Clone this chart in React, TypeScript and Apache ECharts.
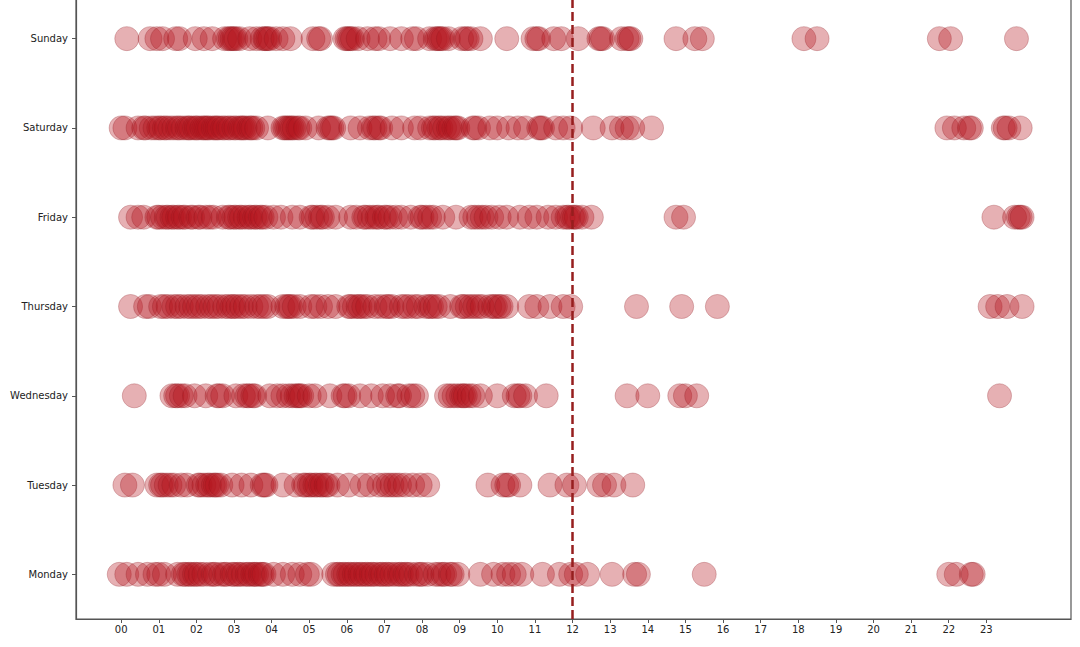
import React, { useEffect, useRef } from "react";
import * as echarts from "echarts";

const days = ["Monday", "Tuesday", "Wednesday", "Thursday", "Friday", "Saturday", "Sunday"];
const hourTicks = Array.from({ length: 24 }, (_, i) => i);

const monday = [-0.05, 0.15, 0.45, 0.7, 0.9, 1.0, 1.15, 1.5, 1.65, 1.7, 1.8, 1.85, 1.95, 2.0, 2.1, 2.2, 2.35, 2.45, 2.5, 2.65, 2.75, 2.8, 2.95, 3.0, 3.1, 3.15, 3.25, 3.35, 3.4, 3.5, 3.55, 3.6, 3.7, 3.75, 3.8, 4.05, 4.3, 4.55, 4.75, 4.95, 5.05, 5.65, 5.75, 5.8, 5.9, 5.95, 6.05, 6.1, 6.2, 6.25, 6.35, 6.4, 6.5, 6.55, 6.65, 6.7, 6.8, 6.9, 6.95, 7.05, 7.1, 7.2, 7.3, 7.4, 7.45, 7.55, 7.6, 7.7, 7.85, 7.95, 8.0, 8.15, 8.35, 8.45, 8.55, 8.6, 8.75, 8.8, 8.95, 9.55, 9.9, 10.15, 10.3, 10.45, 10.65, 11.2, 11.65, 11.95, 12.1, 12.4, 13.05, 13.65, 13.75, 15.5, 22.0, 22.2, 22.6, 22.65];
const tuesday = [0.1, 0.3, 0.95, 1.05, 1.1, 1.2, 1.3, 1.4, 1.6, 1.75, 2.05, 2.1, 2.2, 2.3, 2.35, 2.45, 2.5, 2.55, 2.65, 2.95, 3.2, 3.45, 3.75, 3.8, 3.85, 4.3, 4.65, 4.85, 4.9, 5.0, 5.05, 5.15, 5.2, 5.3, 5.35, 5.45, 5.5, 5.75, 6.05, 6.4, 6.6, 6.85, 7.0, 7.1, 7.2, 7.3, 7.4, 7.55, 7.75, 7.95, 8.15, 9.75, 10.15, 10.25, 10.3, 10.6, 11.4, 11.85, 12.05, 12.7, 12.85, 13.1, 13.6];
const wednesday = [0.35, 1.35, 1.45, 1.5, 1.6, 1.7, 1.95, 2.25, 2.55, 2.6, 2.7, 3.05, 3.25, 3.35, 3.4, 3.5, 3.55, 3.95, 4.15, 4.3, 4.45, 4.55, 4.65, 4.7, 4.75, 4.8, 5.0, 5.15, 5.55, 5.9, 5.95, 6.05, 6.35, 6.65, 6.95, 7.15, 7.35, 7.4, 7.65, 7.75, 7.85, 8.65, 8.75, 8.85, 8.95, 9.05, 9.1, 9.15, 9.25, 9.35, 9.55, 10.0, 10.45, 10.55, 10.6, 10.75, 11.3, 13.45, 14.0, 14.85, 15.0, 15.3, 23.35];
const thursday = [0.25, 0.65, 0.75, 1.05, 1.15, 1.25, 1.4, 1.5, 1.6, 1.75, 1.85, 1.95, 2.05, 2.15, 2.3, 2.4, 2.5, 2.6, 2.75, 2.85, 2.95, 3.0, 3.1, 3.2, 3.3, 3.45, 3.6, 3.7, 3.8, 3.9, 4.3, 4.4, 4.45, 4.5, 4.6, 4.75, 5.05, 5.15, 5.3, 5.5, 5.7, 6.05, 6.1, 6.2, 6.3, 6.35, 6.45, 6.55, 6.75, 6.9, 7.05, 7.1, 7.2, 7.45, 7.55, 7.65, 7.8, 7.9, 8.1, 8.2, 8.25, 8.35, 8.45, 8.75, 9.05, 9.1, 9.2, 9.3, 9.4, 9.5, 9.6, 9.8, 9.9, 9.95, 10.05, 10.1, 10.25, 10.85, 11.05, 11.4, 11.75, 11.95, 13.7, 14.9, 15.85, 23.1, 23.3, 23.55, 23.95];
const friday = [0.25, 0.45, 0.6, 0.95, 1.0, 1.1, 1.2, 1.25, 1.35, 1.4, 1.5, 1.55, 1.65, 1.7, 1.85, 1.9, 2.05, 2.1, 2.25, 2.35, 2.45, 2.7, 2.85, 2.9, 3.0, 3.05, 3.15, 3.2, 3.3, 3.4, 3.45, 3.55, 3.6, 3.7, 3.75, 3.85, 4.05, 4.25, 4.55, 4.75, 5.05, 5.1, 5.2, 5.3, 5.35, 5.5, 5.7, 6.1, 6.25, 6.45, 6.5, 6.6, 6.7, 6.8, 6.85, 7.0, 7.05, 7.15, 7.3, 7.45, 7.7, 7.95, 8.0, 8.1, 8.2, 8.3, 8.55, 8.9, 9.3, 9.4, 9.5, 9.6, 9.7, 9.85, 10.05, 10.25, 10.6, 10.85, 11.05, 11.35, 11.55, 11.75, 11.85, 11.9, 12.0, 12.05, 12.1, 12.25, 12.5, 14.75, 14.95, 23.2, 23.75, 23.85, 23.9, 23.95];
const saturday = [0.0, 0.1, 0.45, 0.6, 0.65, 0.8, 0.9, 1.0, 1.05, 1.15, 1.2, 1.3, 1.4, 1.5, 1.55, 1.65, 1.75, 1.8, 1.85, 1.95, 2.0, 2.05, 2.15, 2.2, 2.25, 2.3, 2.35, 2.45, 2.5, 2.55, 2.6, 2.7, 2.75, 2.85, 2.9, 3.0, 3.05, 3.15, 3.2, 3.25, 3.3, 3.4, 3.45, 3.5, 3.6, 3.9, 4.3, 4.35, 4.4, 4.45, 4.5, 4.55, 4.6, 4.7, 4.75, 4.9, 5.25, 5.5, 5.55, 5.6, 5.65, 6.1, 6.35, 6.6, 6.7, 6.75, 6.85, 6.9, 7.2, 7.45, 7.8, 7.95, 8.2, 8.3, 8.35, 8.45, 8.5, 8.6, 8.7, 8.75, 8.85, 8.9, 8.95, 9.35, 9.4, 9.5, 9.8, 10.0, 10.3, 10.55, 10.75, 11.1, 11.15, 11.2, 11.55, 11.75, 11.95, 12.55, 13.05, 13.3, 13.45, 13.6, 14.1, 21.95, 22.15, 22.4, 22.55, 22.6, 23.45, 23.5, 23.6, 23.9];
const sunday = [0.15, 0.77, 0.95, 1.1, 1.45, 1.55, 1.97, 2.2, 2.42, 2.75, 2.85, 2.9, 2.95, 3.0, 3.05, 3.15, 3.42, 3.6, 3.75, 3.82, 3.85, 3.9, 3.95, 4.12, 4.3, 4.5, 5.1, 5.25, 5.3, 5.95, 6.0, 6.05, 6.1, 6.15, 6.3, 6.55, 6.75, 6.85, 7.15, 7.45, 7.75, 7.85, 8.2, 8.35, 8.4, 8.45, 8.5, 8.55, 8.7, 9.05, 9.15, 9.2, 9.3, 9.55, 10.25, 10.95, 11.05, 11.1, 11.5, 11.7, 12.15, 12.7, 12.75, 12.8, 13.3, 13.45, 13.5, 13.55, 14.75, 15.25, 15.45, 18.15, 18.5, 21.75, 22.05, 23.8];

const seriesByDay = [monday, tuesday, wednesday, thursday, friday, saturday, sunday];
const noonLine = 12;

export default function App() {
  const ref = useRef<HTMLDivElement>(null);
  useEffect(() => {
    if (!ref.current) return;
    const chart = echarts.init(ref.current, undefined, { renderer: "svg" });
    const data: [number, string][] = [];
    seriesByDay.forEach((arr, i) => arr.forEach((h) => data.push([h, days[i]])));
    const axisColor = "#555";
    const font = "DejaVu Sans";
    chart.setOption({
      animation: false,
      backgroundColor: "#ffffff",
      grid: {
        left: 76,
        right: 9,
        top: 0,
        bottom: 28,
        show: true,
        borderColor: axisColor,
        borderWidth: 1.2,
        backgroundColor: "transparent",
      },
      xAxis: {
        type: "value",
        min: -1.2,
        max: 25.25,
        splitLine: { show: false },
        axisLine: { show: true, onZero: false, lineStyle: { color: axisColor, width: 1.2 } },
        axisTick: { show: true, customValues: hourTicks, length: 4, lineStyle: { color: axisColor } },
        axisLabel: {
          customValues: hourTicks,
          formatter: (v: number) => String(v).padStart(2, "0"),
          fontFamily: font,
          fontSize: 10,
          color: "#222",
          margin: 5,
        },
      },
      yAxis: {
        type: "category",
        data: days,
        boundaryGap: true,
        splitLine: { show: false },
        axisLine: { show: true, onZero: false, lineStyle: { color: axisColor, width: 1.2 } },
        axisTick: { show: true, alignWithLabel: true, length: 4, lineStyle: { color: axisColor } },
        axisLabel: { fontFamily: font, fontSize: 10, color: "#222", margin: 8 },
      },
      series: [
        {
          type: "scatter",
          data,
          symbol: "circle",
          symbolSize: 24,
          itemStyle: {
            color: "rgba(180,20,30,0.42)",
            borderColor: "rgba(140,20,30,0.35)",
            borderWidth: 1,
          },
          markLine: {
            silent: true,
            symbol: ["none", "none"],
            label: { show: false },
            lineStyle: { color: "#961e1e", width: 2.5, type: [9, 4] },
            data: [{ xAxis: noonLine }],
          },
        },
      ],
    });
    return () => chart.dispose();
  }, []);
  return (
    <div
      ref={ref}
      style={{ position: "absolute", left: 0, top: -6, width: 1080, height: 653 }}
    />
  );
}
